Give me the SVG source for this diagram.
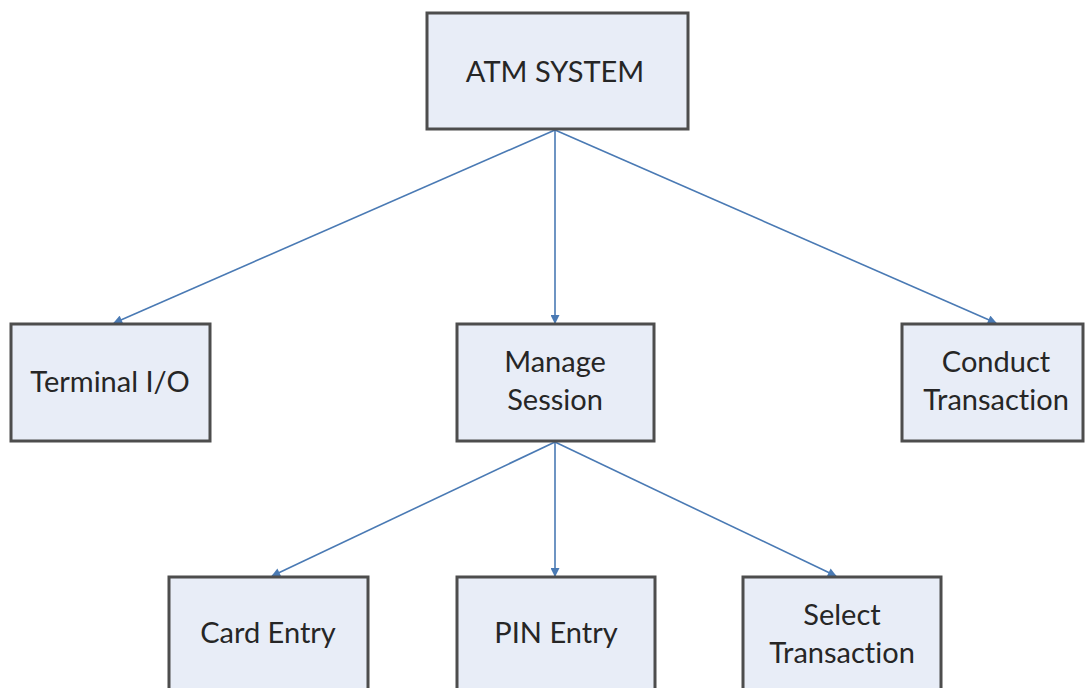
<svg xmlns="http://www.w3.org/2000/svg" width="1088" height="688" viewBox="0 0 1088 688">
<defs>
<style>
.box{fill:#e8edf7;stroke:#4d4d4d;stroke-width:3}
.lbl{font-family:Lato,"Open Sans","Liberation Sans",sans-serif;font-size:29px;fill:#262626;text-anchor:middle;font-variant-ligatures:none}
.edge{stroke:#4a7ab4;stroke-width:1.6;fill:none;marker-end:url(#arr)}
</style>
<marker id="arr" viewBox="0 0 10 10" refX="9" refY="5" markerWidth="10" markerHeight="9" orient="auto" markerUnits="userSpaceOnUse">
<path d="M0,0 L10,5 L0,10 z" fill="#4a7ab4"/>
</marker>
</defs>
<rect width="1088" height="688" fill="#ffffff"/>
<g id="connectors">
<line class="edge" x1="555" y1="130" x2="114" y2="323"/>
<line class="edge" x1="555" y1="130" x2="555" y2="323"/>
<line class="edge" x1="555" y1="130" x2="996" y2="323"/>
<line class="edge" x1="555" y1="442" x2="272" y2="576"/>
<line class="edge" x1="555" y1="442" x2="555" y2="576"/>
<line class="edge" x1="555" y1="442" x2="836" y2="576"/>
</g>
<g id="atm">
<rect class="box" x="427" y="13" width="261" height="116"/>
<text class="lbl" x="555" y="82">ATM SYSTEM</text>
</g>
<g id="terminal">
<rect class="box" x="11" y="324" width="199" height="117"/>
<text class="lbl" x="110" y="392">Terminal I/O</text>
</g>
<g id="manage">
<rect class="box" x="457" y="324" width="197" height="117"/>
<text class="lbl" x="555" y="372">Manage</text>
<text class="lbl" x="555" y="410">Session</text>
</g>
<g id="conduct">
<rect class="box" x="902" y="324" width="181" height="117"/>
<text class="lbl" x="996" y="372">Conduct</text>
<text class="lbl" x="996" y="410">Transaction</text>
</g>
<g id="card">
<rect class="box" x="169" y="577" width="199" height="130"/>
<text class="lbl" x="268" y="643">Card Entry</text>
</g>
<g id="pin">
<rect class="box" x="457" y="577" width="198" height="130"/>
<text class="lbl" x="556" y="643">PIN Entry</text>
</g>
<g id="select">
<rect class="box" x="743" y="577" width="198" height="130"/>
<text class="lbl" x="842" y="625">Select</text>
<text class="lbl" x="842" y="663">Transaction</text>
</g>
</svg>
